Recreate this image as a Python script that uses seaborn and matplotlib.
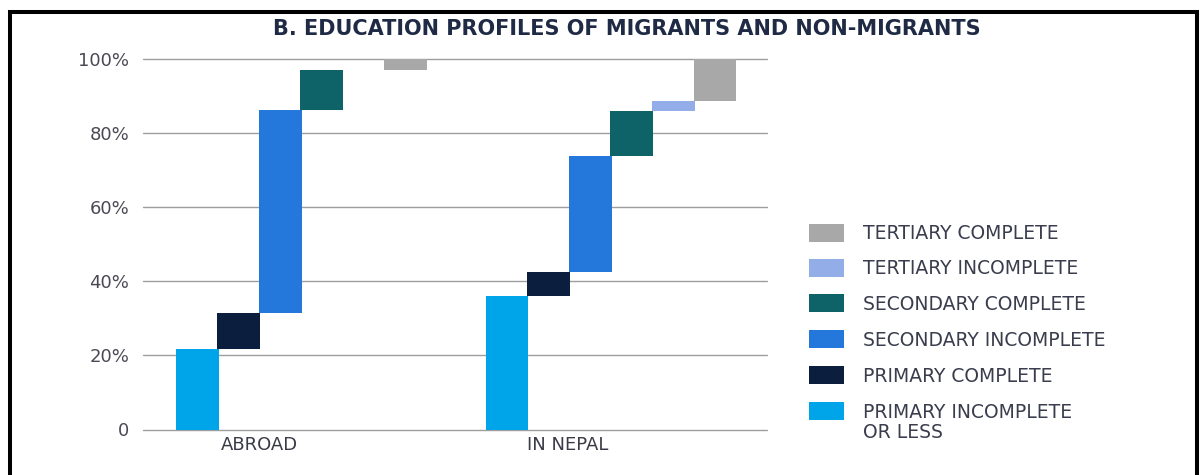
import matplotlib
matplotlib.use("Agg")
import matplotlib.pyplot as plt
from matplotlib.patches import Rectangle
import numpy as np
import pandas as pd
import seaborn as sns

# Education levels, from the bottom of the staircase to the top
levels = [
    "PRIMARY INCOMPLETE\nOR LESS",
    "PRIMARY COMPLETE",
    "SECONDARY INCOMPLETE",
    "SECONDARY COMPLETE",
    "TERTIARY INCOMPLETE",
    "TERTIARY COMPLETE",
]
groups = ["ABROAD", "IN NEPAL"]
# Share of each population (%) at each education level
abroad = [21.6, 9.9, 54.8, 10.8, 0.0, 2.9]
in_nepal = [36.0, 6.4, 31.5, 12.1, 2.7, 11.3]
y_ticks = [0, 20, 40, 60, 80, 100]
y_tick_labels = ["0", "20%", "40%", "60%", "80%", "100%"]
title = "B. EDUCATION PROFILES OF MIGRANTS AND NON-MIGRANTS"

palette = ["#00A4E8", "#0B1E3E", "#2478DC", "#0D6367", "#93ADE8", "#A8A8A8"]

W, H, DPI = 1200, 475, 100
sns.set_theme(style="white")
plt.rcParams["font.family"] = ["DejaVu Sans"]

# One floating segment per group and level, stacked on the running total
group_offset = 7.45
rows = []
for g, (name, shares) in enumerate(zip(groups, [abroad, in_nepal])):
    base = np.concatenate([[0.0], np.cumsum(shares)[:-1]])
    for i, (lvl, v, b) in enumerate(zip(levels, shares, base)):
        rows.append(dict(group=name, level=lvl, pos=g * group_offset + i,
                         share=v, start=b))
df = pd.DataFrame(rows)

fig = plt.figure(figsize=(W / DPI, H / DPI), dpi=DPI)
fig.patch.set_facecolor("white")


def fx(px):
    return px / W


def fy(py):
    return 1 - py / H


ax = fig.add_axes([fx(143), fy(429.5), fx(767) - fx(143), fy(59) - fy(429.5)])
ax.set_facecolor("white")

bar_width = 1.03
for lvl, color in zip(levels, palette):
    sub = df[df["level"] == lvl].sort_values("pos")
    native = np.diff(sub["pos"].to_numpy()).min()
    sns.barplot(data=sub, x="pos", y="share", native_scale=True,
                errorbar=None, color=color, saturation=1,
                width=bar_width / native, bottom=sub["start"].to_numpy(),
                linewidth=0, ax=ax)

ax.set_xlim(-1.3, 13.7)
ax.set_ylim(0, 100)
ax.set_yticks(y_ticks, y_tick_labels)
ax.set_xticks([1.5, group_offset + 1.45], groups)
ax.set_xlabel("")
ax.set_ylabel("")
for s in ax.spines.values():
    s.set_visible(False)
ax.set_axisbelow(True)
ax.yaxis.grid(True, color="#9E9E9E", linewidth=1.0)
ax.xaxis.grid(False)
ax.tick_params(axis="y", length=0, pad=10, labelsize=13, labelcolor="#4a4a55")
ax.tick_params(axis="x", length=0, pad=5, labelsize=13, labelcolor="#3a3a48")
for gl in ax.get_ygridlines():
    gl.set_clip_on(False)

fig.text(fx(627), fy(29), title, ha="center", va="center", fontsize=15,
         fontweight="semibold", color="#1f2a44")

# Outer frame (its lower edge runs past the bottom of the canvas)
fig.add_artist(Rectangle((fx(9.5), fy(485)), fx(1196.5) - fx(9.5),
                         fy(12) - fy(485), fill=False, edgecolor="black",
                         linewidth=2.9, transform=fig.transFigure,
                         clip_on=False))

# Legend, top entry = last level
legend_rows = [233, 268, 303, 339, 375, 411]
for (lvl, color), yc in zip(list(zip(levels, palette))[::-1], legend_rows):
    fig.add_artist(Rectangle((fx(809), fy(yc + 9)), fx(844) - fx(809),
                             fy(yc - 9) - fy(yc + 9), facecolor=color,
                             edgecolor="none", transform=fig.transFigure))
    extra = lvl.count("\n")
    fig.text(fx(863), fy(yc + 6.5 + 20 * extra), lvl, ha="left",
             va="baseline", fontsize=13.5, color="#3a3d4d", linespacing=1.0)

fig.savefig("out.png", dpi=DPI, facecolor="white")
